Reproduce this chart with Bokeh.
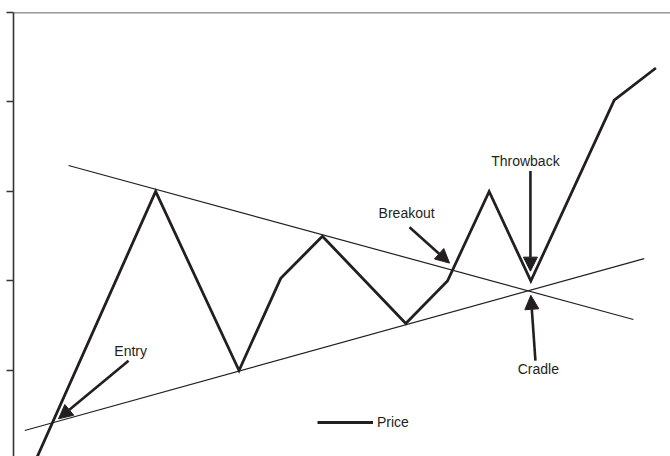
from bokeh.plotting import figure
from bokeh.models import (Range1d, FixedTicker, Arrow, NormalHead,
                          Label, Legend, Span)
from bokeh.embed import file_html
from bokeh.resources import INLINE

# Price path (time index, price level)
price_t = [0, 3, 5, 6, 7, 9, 10, 11, 12, 14, 15]
price_v = [-0.13, 3.0, 1.0, 2.03, 2.5, 1.525, 2.0, 3.0, 2.0, 4.02, 4.38]

# Trend lines (end points)
upper_t = [0.91, 14.46]
upper_v = [3.29, 1.57]
lower_t = [-0.14, 14.72]
lower_v = [0.33, 2.25]

# Annotations: label, label position, arrow tail, arrow tip
ann_labels = ["Entry", "Breakout", "Throwback", "Cradle"]
ann_label_t = [2.40, 9.02, 11.87, 12.18]
ann_label_v = [1.223, 2.765, 3.346, 1.022]
arrow_tail_t = [2.35, 9.09, 11.99, 12.11]
arrow_tail_v = [1.11, 2.60, 3.23, 1.11]
arrow_tip_t = [0.67, 10.05, 11.99, 12.00]
arrow_tip_v = [0.46, 2.20, 2.11, 1.84]

y_ticks = [1, 2, 3, 4, 5]
y_top = 5.0

INK = "#231f20"

p = figure(width=670, height=456, output_backend="svg", toolbar_location=None,
           x_range=Range1d(-0.41, 15.35), y_range=Range1d(0.039, 5.0),
           x_axis_location=None, y_axis_location="left",
           min_border_left=13, min_border_right=0, min_border_top=12,
           min_border_bottom=0)
p.outline_line_color = None
p.grid.visible = False
p.background_fill_color = "white"

ya = p.yaxis[0]
ya.ticker = FixedTicker(ticks=y_ticks)
ya.major_label_text_color = None
ya.major_label_text_font_size = "1px"
ya.major_label_standoff = 0
ya.minor_tick_line_color = None
ya.major_tick_in = 0
ya.major_tick_out = 7
ya.axis_line_width = 1.6
ya.major_tick_line_width = 1.6
ya.axis_line_color = "#333333"
ya.major_tick_line_color = "#333333"

p.add_layout(Span(location=y_top, dimension="width", line_color="#333333",
                  line_width=1.6))

p.line(upper_t, upper_v, line_color=INK, line_width=1.2)
p.line(lower_t, lower_v, line_color=INK, line_width=1.2)
price = p.line(price_t, price_v, line_color=INK, line_width=2.8,
               line_join="miter")

for lab, lt, lv, t0, v0, t1, v1 in zip(ann_labels, ann_label_t, ann_label_v,
                                       arrow_tail_t, arrow_tail_v,
                                       arrow_tip_t, arrow_tip_v):
    p.add_layout(Arrow(x_start=t0, y_start=v0, x_end=t1, y_end=v1,
                       line_color=INK, line_width=2.6,
                       end=NormalHead(size=14, fill_color=INK,
                                      line_color=INK, line_width=1)))
    p.add_layout(Label(x=lt, y=lv, text=lab, text_align="center",
                       text_baseline="middle", text_font="Liberation Sans",
                       text_font_size="14px", text_color=INK))

legend = Legend(items=[("Price", [price])], location=(304, 24),
                border_line_color=None, background_fill_alpha=0,
                padding=0, margin=0, glyph_width=56, glyph_height=20,
                label_standoff=4, label_text_font="Liberation Sans",
                label_text_font_size="14px", label_text_color=INK)
p.add_layout(legend, "center")

open("out.html", "w").write(file_html(p, INLINE))
